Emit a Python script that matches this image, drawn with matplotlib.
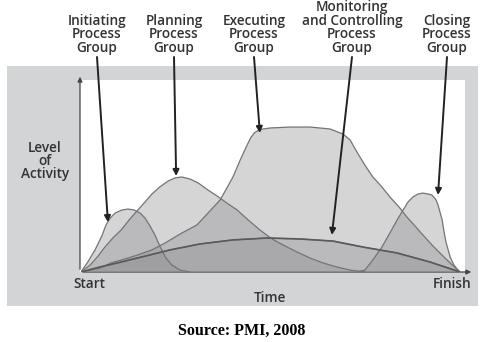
import matplotlib
matplotlib.use("Agg")
import matplotlib.pyplot as plt
from matplotlib.patches import Rectangle

# time (% of project) and level of activity (% of axis height)
init_t = [0, 1.8, 3.7, 5.5, 6.6, 7.7, 9.0, 10.8, 12.4, 14.0, 15.6, 16.9, 18.2, 19.5, 20.8, 22.4, 24.0, 26.1, 28.8]
init_a = [0, 5.2, 11.5, 18.8, 24.5, 28.1, 30.7, 32.3, 32.8, 32.3, 30.7, 28.1, 24.0, 19.3, 13.5, 7.3, 3.6, 1.0, 0]

plan_t = [0, 2.4, 4.5, 6.3, 8.4, 10.6, 12.9, 15.0, 16.9, 18.7, 20.8, 23.0, 24.8, 26.6, 28.8, 30.9,
          33.5, 35.9, 38.5, 41.2, 44.1, 47.2, 50.4, 53.3, 57.0, 60.4, 63.9, 67.5, 71.0, 74.9]
plan_a = [0, 3.6, 8.3, 13.0, 17.7, 21.9, 27.6, 32.3, 36.5, 40.6, 44.3, 47.4, 49.0, 49.5, 48.4, 46.4,
          42.7, 39.6, 35.9, 32.3, 27.1, 21.9, 17.2, 14.1, 10.4, 7.3, 4.7, 2.6, 1.0, 0]

exec_t = [0, 5.0, 7.9, 11.6, 15.0, 18.7, 22.2, 26.6, 30.6, 33.5, 36.7, 38.5, 40.1, 42.0, 43.8, 44.8,
          45.8, 47.2, 49.9, 55.1, 60.4, 65.7, 69.1, 71.0, 72.8, 74.9, 77.0, 79.4, 81.5, 83.9, 86.0, 88.1,
          90.2, 92.6, 94.7, 97.4, 100]
exec_a = [0, 2.1, 4.7, 6.8, 8.9, 11.5, 15.1, 20.3, 24.5, 30.7, 37.5, 43.8, 49.5, 58.3, 66.0, 70.0,
          72.6, 74.2, 75.0, 75.5, 75.5, 74.5, 71.9, 68.8, 62.5, 55.7, 49.5, 44.3, 39.1, 33.9, 28.6, 24.0,
          19.3, 14.1, 9.9, 4.7, 0]

mon_t = [0, 5.0, 10.6, 18.2, 23.5, 31.4, 40.1, 49.1, 57.8, 66.5, 74.4, 83.4, 92.1, 100]
mon_a = [0, 2.6, 5.2, 8.9, 11.5, 14.6, 16.7, 17.7, 17.2, 16.1, 13.0, 9.9, 5.2, 0]

close_t = [72.8, 74.9, 77.0, 79.4, 81.5, 83.4, 85.0, 86.3, 87.6, 88.9, 90.2, 91.6, 92.6, 93.7,
           94.2, 94.7, 95.3, 95.8, 96.3, 97.4, 98.4, 99.2, 100]
close_a = [0, 1.0, 6.3, 13.0, 20.3, 27.1, 32.3, 36.5, 39.1, 40.6, 41.1, 40.6, 40.1, 37.5,
           34.9, 31.3, 27.1, 20.8, 15.6, 7.8, 3.6, 1.6, 0]

groups = ["Initiating\nProcess\nGroup", "Planning\nProcess\nGroup", "Executing\nProcess\nGroup",
          "Monitoring\nand Controlling\nProcess\nGroup", "Closing\nProcess\nGroup"]
# where each label's arrow points, in data units
tips = [(7.1, 26.0), (25.1, 50.0), (47.2, 72.4), (66.2, 19.3), (94.2, 40.1)]

W, H = 485, 342
fig = plt.figure(figsize=(W / 100, H / 100), dpi=100)
fig.patch.set_facecolor("white")

# background axes in pixel units
bg = fig.add_axes([0, 0, 1, 1])
bg.set_xlim(0, W)
bg.set_ylim(H, 0)
bg.axis("off")
bg.add_patch(Rectangle((7, 66), 471, 240, facecolor="#d3d4d6", edgecolor="none"))
bg.add_patch(Rectangle((80, 80), 385, 192, facecolor="white", edgecolor="none"))

# data axes
x0, x1, ybase, ytop = 81, 460, 272, 80
ax = fig.add_axes([x0 / W, (H - ybase) / H, (x1 - x0) / W, (ybase - ytop) / H])
ax.set_xlim(0, 100)
ax.set_ylim(0, 100)
ax.axis("off")
ax.patch.set_alpha(0)

for t, a in [(mon_t, mon_a), (exec_t, exec_a), (plan_t, plan_a), (init_t, init_a), (close_t, close_a)]:
    ax.fill_between(t, a, 0, facecolor="#8e8e92", alpha=0.37, edgecolor="none")
    ax.plot(t, a, color="#747476", lw=0.9)
ax.plot(mon_t, mon_a, color="#5a5a5c", lw=1.2)

# axes arrows
bg.annotate("", xy=(80, 74), xytext=(80, 272),
            arrowprops=dict(arrowstyle="-|>", color="#444444", lw=0.9, mutation_scale=7))
bg.annotate("", xy=(474, 272), xytext=(80, 272),
            arrowprops=dict(arrowstyle="-|>", color="#444444", lw=0.9, mutation_scale=7))

font = "Open Sans"
tc = "#333333"
fs = 9.8
label_x = [97, 174, 254, 352, 447]
label_y = [34.5, 34.5, 34.5, 27.5, 34.5]
for name, lx, ly, tip in zip(groups, label_x, label_y, tips):
    bg.text(lx, ly, name, ha="center", va="center", fontsize=fs, family=font,
            fontweight="semibold", color=tc, linespacing=0.95)
    ax.annotate("", xy=tip, xycoords="data", xytext=(lx, H - 57), textcoords="figure pixels",
                arrowprops=dict(arrowstyle="-|>", color="#222222", lw=1.4, mutation_scale=9,
                                shrinkA=0, shrinkB=0))

bg.text(45, 161, "Level\nof\nActivity", ha="center", va="center", fontsize=fs, family=font,
        fontweight="semibold", color=tc, linespacing=0.9)
bg.text(89, 284, "Start", ha="center", va="center", fontsize=fs, family=font,
        fontweight="semibold", color=tc)
bg.text(452, 284, "Finish", ha="center", va="center", fontsize=fs, family=font,
        fontweight="semibold", color=tc)
bg.text(270, 298, "Time", ha="center", va="center", fontsize=fs, family=font,
        fontweight="semibold", color=tc)
bg.text(242, 331, "Source: PMI, 2008", ha="center", va="center", fontsize=11.5,
        family="Liberation Serif", fontweight="bold", color="black")

fig.savefig("out.png", dpi=100)
